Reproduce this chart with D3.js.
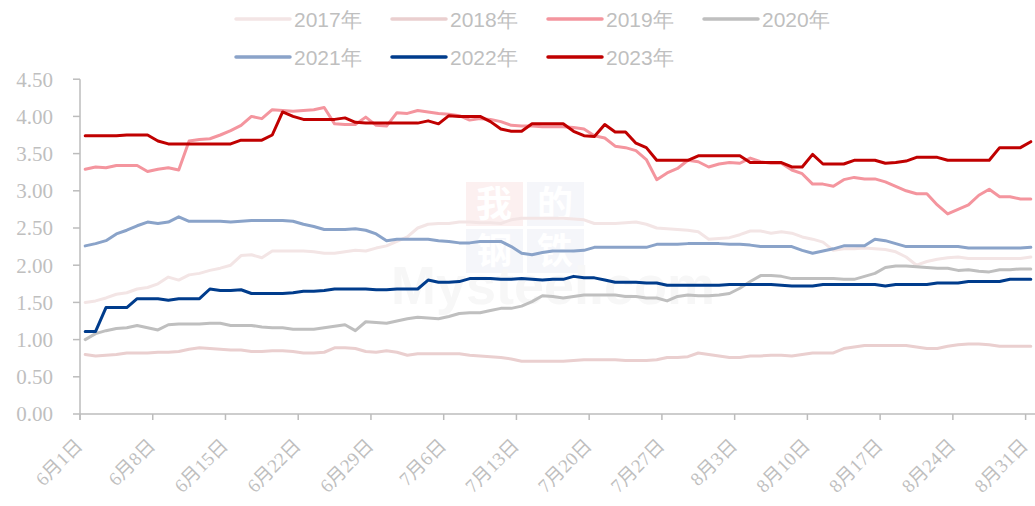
<!DOCTYPE html>
<html>
<head>
<meta charset="utf-8">
<script src="https://cdn.jsdelivr.net/npm/d3@7"></script>
<style>
  html, body { margin: 0; padding: 0; background: #fff; }
  svg { display: block; }
</style>
</head>
<body>
<svg id="chart" width="1035" height="506"></svg>
<script>
// ---- data (daily, 6月1日 .. 8月31日) ----
const seriesNames = ["2017年", "2018年", "2019年", "2020年", "2021年", "2022年", "2023年"];
const tickLabels = ["6月1日","6月8日","6月15日","6月22日","6月29日","7月6日","7月13日",
                    "7月20日","7月27日","8月3日","8月10日","8月17日","8月24日","8月31日"];
const yTicks = [0, 0.5, 1, 1.5, 2, 2.5, 3, 3.5, 4, 4.5];

const y2017 = [1.50,1.52,1.56,1.61,1.63,1.68,1.70,1.75,1.84,1.80,1.87,1.89,1.93,1.96,2.00,2.13,2.14,2.10,2.19,2.19,
               2.19,2.19,2.18,2.16,2.16,2.18,2.20,2.19,2.23,2.26,2.32,2.38,2.50,2.55,2.56,2.56,2.58,2.58,2.57,2.57,
               2.56,2.61,2.63,2.63,2.63,2.63,2.63,2.62,2.61,2.56,2.56,2.56,2.57,2.58,2.55,2.50,2.49,2.48,2.47,2.45,
               2.35,2.36,2.37,2.41,2.46,2.46,2.43,2.45,2.43,2.38,2.35,2.31,2.20,2.22,2.22,2.23,2.22,2.21,2.18,2.11,
               2.00,2.05,2.08,2.10,2.11,2.09,2.09,2.09,2.09,2.09,2.09,2.11];
const y2018 = [0.80,0.78,0.79,0.80,0.82,0.82,0.82,0.83,0.83,0.84,0.87,0.89,0.88,0.87,0.86,0.86,0.84,0.84,0.85,0.85,
               0.84,0.82,0.82,0.83,0.89,0.89,0.88,0.84,0.83,0.85,0.83,0.79,0.81,0.81,0.81,0.81,0.81,0.79,0.78,0.77,
               0.76,0.74,0.71,0.71,0.71,0.71,0.71,0.72,0.73,0.73,0.73,0.73,0.72,0.72,0.72,0.73,0.76,0.76,0.77,0.82,
               0.80,0.78,0.76,0.76,0.78,0.78,0.79,0.79,0.78,0.80,0.82,0.82,0.82,0.88,0.90,0.92,0.92,0.92,0.92,0.92,
               0.90,0.88,0.88,0.91,0.93,0.94,0.94,0.93,0.91,0.91,0.91,0.91];
const y2019 = [3.29,3.32,3.31,3.34,3.34,3.34,3.26,3.29,3.31,3.28,3.67,3.69,3.70,3.75,3.81,3.88,4.00,3.97,4.09,4.08,
               4.07,4.08,4.09,4.12,3.90,3.89,3.89,3.99,3.88,3.87,4.05,4.04,4.08,4.06,4.04,4.03,4.01,3.95,3.97,3.96,
               3.93,3.88,3.87,3.87,3.86,3.86,3.86,3.85,3.83,3.74,3.71,3.60,3.58,3.54,3.42,3.15,3.24,3.30,3.41,3.39,
               3.32,3.36,3.38,3.37,3.44,3.39,3.37,3.37,3.28,3.23,3.09,3.09,3.06,3.15,3.18,3.16,3.16,3.12,3.06,3.00,
               2.96,2.96,2.81,2.69,2.75,2.81,2.94,3.02,2.92,2.92,2.89,2.89];
const y2020 = [1.00,1.08,1.12,1.15,1.16,1.19,1.16,1.13,1.20,1.21,1.21,1.21,1.22,1.22,1.19,1.19,1.19,1.17,1.16,1.16,
               1.14,1.14,1.14,1.16,1.18,1.20,1.12,1.24,1.23,1.22,1.25,1.28,1.30,1.29,1.28,1.31,1.35,1.36,1.36,1.39,
               1.42,1.42,1.45,1.51,1.59,1.58,1.56,1.58,1.60,1.60,1.60,1.60,1.58,1.58,1.56,1.56,1.52,1.58,1.60,1.59,
               1.59,1.60,1.62,1.69,1.78,1.86,1.86,1.85,1.82,1.82,1.82,1.82,1.82,1.81,1.81,1.85,1.89,1.97,1.99,1.99,
               1.98,1.97,1.96,1.96,1.93,1.94,1.92,1.91,1.94,1.94,1.95,1.95];
const y2021 = [2.26,2.29,2.33,2.42,2.47,2.53,2.58,2.56,2.58,2.65,2.59,2.59,2.59,2.59,2.58,2.59,2.60,2.60,2.60,2.60,
               2.59,2.55,2.52,2.48,2.48,2.48,2.49,2.47,2.42,2.33,2.35,2.35,2.35,2.35,2.33,2.32,2.30,2.30,2.32,2.32,
               2.32,2.25,2.16,2.14,2.17,2.19,2.19,2.19,2.20,2.24,2.24,2.24,2.24,2.24,2.24,2.28,2.28,2.28,2.29,2.29,
               2.29,2.29,2.28,2.28,2.27,2.25,2.25,2.25,2.25,2.20,2.16,2.19,2.22,2.26,2.26,2.26,2.35,2.33,2.29,2.25,
               2.25,2.25,2.25,2.25,2.25,2.23,2.23,2.23,2.23,2.23,2.23,2.24];
const y2022 = [1.11,1.11,1.43,1.43,1.43,1.55,1.55,1.55,1.53,1.55,1.55,1.55,1.68,1.66,1.66,1.67,1.62,1.62,1.62,1.62,
               1.63,1.65,1.65,1.66,1.68,1.68,1.68,1.68,1.67,1.67,1.68,1.68,1.68,1.80,1.77,1.77,1.78,1.82,1.82,1.82,
               1.81,1.81,1.82,1.81,1.80,1.81,1.81,1.85,1.83,1.83,1.80,1.77,1.77,1.77,1.76,1.76,1.73,1.73,1.73,1.73,
               1.73,1.73,1.74,1.74,1.74,1.74,1.74,1.73,1.72,1.72,1.72,1.74,1.74,1.74,1.74,1.74,1.74,1.72,1.74,1.74,
               1.74,1.74,1.76,1.76,1.76,1.78,1.78,1.78,1.78,1.81,1.81,1.81];
const y2023 = [3.74,3.74,3.74,3.74,3.75,3.75,3.75,3.67,3.63,3.63,3.63,3.63,3.63,3.63,3.63,3.68,3.68,3.68,3.75,4.06,
               4.00,3.96,3.96,3.96,3.96,3.98,3.92,3.91,3.91,3.91,3.91,3.91,3.91,3.94,3.90,4.01,4.00,4.00,4.00,3.93,
               3.83,3.80,3.80,3.90,3.90,3.90,3.90,3.80,3.74,3.73,3.89,3.79,3.79,3.64,3.58,3.41,3.41,3.41,3.41,3.47,
               3.47,3.47,3.47,3.47,3.38,3.38,3.38,3.38,3.32,3.32,3.49,3.36,3.36,3.36,3.41,3.41,3.41,3.37,3.38,3.40,
               3.45,3.45,3.45,3.41,3.41,3.41,3.41,3.41,3.58,3.58,3.58,3.66];

const seriesValues = [y2017, y2018, y2019, y2020, y2021, y2022, y2023];
const seriesColors = ["#f3e5e5", "#eacfcf", "#f4959e", "#bfbfbf", "#8aa3c9", "#003c8c", "#c00000"];

// ---- layout ----
const svg = d3.select("#chart");
const plotLeft = 80, plotRight = 1036, plotTop = 79.2, plotBottom = 414;
const nDays = 92;
const axisColor = "#bcbcbc";
const textColor = "#bfbfbf";

const x = d3.scaleLinear().domain([0, nDays]).range([plotLeft, plotRight]);
const y = d3.scaleLinear().domain([0, 4.5]).range([plotBottom, plotTop]);

// ---- watermark ----
const wm = svg.append("g").attr("class", "watermark");
wm.append("rect").attr("x", 466).attr("y", 182).attr("width", 57).attr("height", 44).attr("fill", "#fcf0f0");
wm.append("rect").attr("x", 527).attr("y", 182).attr("width", 57).attr("height", 44).attr("fill", "#f5f6fa");
wm.append("rect").attr("x", 466).attr("y", 229).attr("width", 57).attr("height", 44).attr("fill", "#f5f6fa");
wm.append("rect").attr("x", 527).attr("y", 229).attr("width", 57).attr("height", 44).attr("fill", "#f5f6fa");
[["我",494,204],["的",555,204],["钢",494,251],["铁",555,251]].forEach(d => {
  wm.append("text").attr("x", d[1]).attr("y", d[2]).attr("dy", "0.36em")
    .attr("text-anchor", "middle").attr("font-family", "Noto Sans CJK SC").attr("font-weight", "bold")
    .attr("font-size", 36).attr("fill", "#ffffff").text(d[0]);
});
wm.append("text").attr("x", 553).attr("y", 304).attr("text-anchor", "middle")
  .attr("font-family", "Liberation Sans").attr("font-weight", "bold").attr("font-size", 54)
  .attr("fill", "#f7f7f7").text("Mysteel.com");

// ---- axes ----
const yAxis = svg.append("g");
yAxis.append("line").attr("x1", plotLeft).attr("x2", plotLeft).attr("y1", plotTop).attr("y2", plotBottom + 6)
  .attr("stroke", axisColor).attr("stroke-width", 1.5);
yAxis.selectAll("line.tick").data(yTicks).join("line").attr("class", "tick")
  .attr("x1", plotLeft - 7).attr("x2", plotLeft).attr("y1", d => y(d)).attr("y2", d => y(d))
  .attr("stroke", axisColor).attr("stroke-width", 1.5);
yAxis.selectAll("text").data(yTicks).join("text")
  .attr("x", 53).attr("y", d => y(d)).attr("dy", "0.35em").attr("text-anchor", "end")
  .attr("font-family", "Liberation Serif, Times New Roman, serif").attr("font-size", 21)
  .attr("fill", textColor).text(d => d.toFixed(2));

const xTickDays = tickLabels.map((_, i) => i * 7);
const xAxis = svg.append("g");
xAxis.append("line").attr("x1", plotLeft).attr("x2", plotRight).attr("y1", plotBottom).attr("y2", plotBottom)
  .attr("stroke", axisColor).attr("stroke-width", 1.5);
xAxis.selectAll("line.tick").data(xTickDays).join("line").attr("class", "tick")
  .attr("x1", d => x(d)).attr("x2", d => x(d)).attr("y1", plotBottom).attr("y2", plotBottom + 6)
  .attr("stroke", axisColor).attr("stroke-width", 1.5);
xAxis.selectAll("text").data(xTickDays).join("text")
  .attr("transform", d => `translate(${x(d) - 1},${plotBottom + 28}) rotate(-45)`)
  .attr("text-anchor", "end").attr("dy", "0.35em")
  .attr("font-family", "Liberation Serif, 'Noto Sans CJK SC', serif").attr("font-size", 19)
  .attr("fill", textColor).text((d, i) => tickLabels[i]);

// ---- lines ----
const line = d3.line().x((d, i) => x(i + 0.5)).y(d => y(d));
svg.append("g").selectAll("path").data(seriesValues).join("path")
  .attr("d", d => line(d)).attr("fill", "none")
  .attr("stroke", (d, i) => seriesColors[i]).attr("stroke-width", 3)
  .attr("stroke-linejoin", "round").attr("stroke-linecap", "round");

// ---- legend ----
const legendPos = [[236,19],[392,19],[548,19],[704,19],[236,57],[392,57],[548,57]];
const lg = svg.append("g").selectAll("g").data(seriesNames).join("g")
  .attr("transform", (d, i) => `translate(${legendPos[i][0]},${legendPos[i][1]})`);
lg.append("line").attr("x1", 0).attr("x2", 54).attr("y1", 0).attr("y2", 0)
  .attr("stroke", (d, i) => seriesColors[i]).attr("stroke-width", 3.5).attr("stroke-linecap", "round");
lg.append("text").attr("x", 58).attr("y", 0).attr("dy", "0.36em")
  .attr("font-family", "Liberation Sans, Arial, sans-serif").attr("font-size", 21)
  .attr("fill", textColor).text(d => d);
</script>
</body>
</html>
